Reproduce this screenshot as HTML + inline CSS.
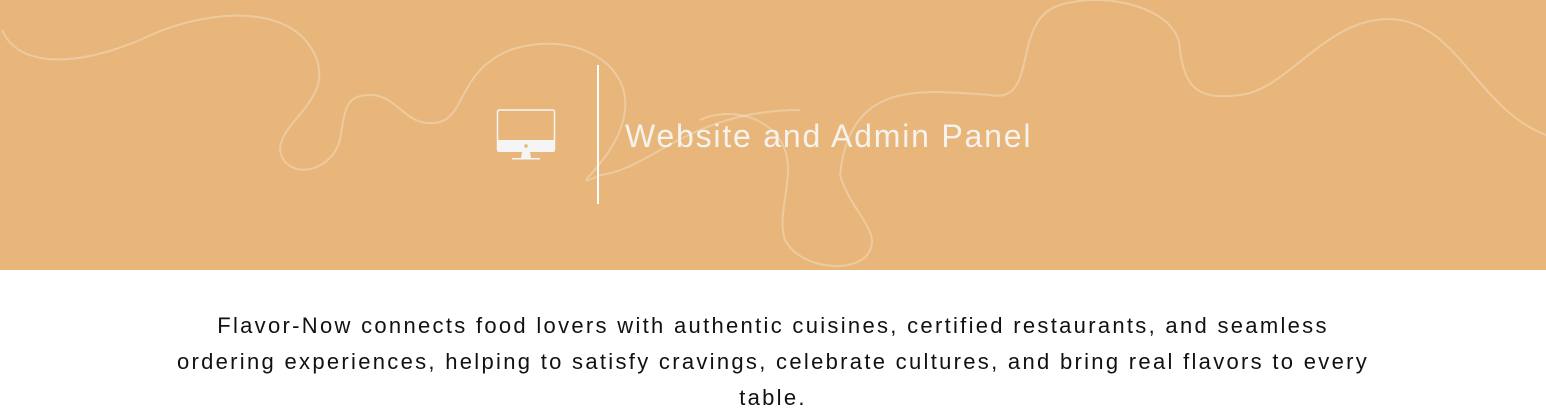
<!DOCTYPE html>
<html><head><style>
html,body{margin:0;padding:0;width:1546px;height:416px;overflow:hidden;background:#fff;font-family:"Liberation Sans",sans-serif}
.banner{position:absolute;left:0;top:0;width:1546px;height:270px;background:#E8B67A}
.title{position:absolute;left:625px;top:118px;font-size:32px;color:#f6f2ee;letter-spacing:1.8px;white-space:nowrap}
.vline{position:absolute;left:597px;top:65px;width:2px;height:139px;background:#fff}
.para{position:absolute;left:60px;width:1426px;top:308px;text-align:center;font-size:22px;line-height:36px;color:#111;letter-spacing:2.3px}
</style></head><body>
<div class="banner">
<svg width="1546" height="270" style="position:absolute;left:0;top:0" fill="none" stroke="rgba(255,255,255,0.28)" stroke-width="2">
<path d="M2 30 C20 70 80 65 140 40 C200 10 290 0 315 55 C335 100 280 120 280 150 C285 180 330 175 340 140 C345 110 345 95 370 95 C400 95 405 130 440 122 C465 115 460 70 510 50 C570 30 630 60 625 110 C620 160 560 195 600 175"/>
<path d="M600 175 C650 170 690 110 800 110"/>
<path d="M840 175 C850 80 920 90 990 95 C1040 105 1010 20 1060 5 C1110 -10 1180 10 1180 50 C1185 90 1200 100 1240 95 C1290 90 1330 10 1400 20 C1460 30 1480 110 1546 135"/>
<path d="M840 175 C850 210 880 230 870 250 C860 275 800 270 785 240 C775 210 800 170 780 140 C760 110 720 110 700 120"/>
</svg>
<svg width="60" height="55" style="position:absolute;left:496px;top:108px">
<rect x="1.5" y="2" width="57" height="41" rx="2" fill="none" stroke="#f5f5f5" stroke-width="1.5"/>
<path d="M1 32 H59 V42 Q59 44 57 44 H3 Q1 44 1 42 Z" fill="#f5f5f5"/>
<path d="M26 44 H34 L35 50 H25 Z" fill="#f5f5f5"/>
<rect x="16" y="50" width="28" height="1.5" fill="#f5f5f5"/>
<circle cx="30" cy="38" r="1.8" fill="#E8B67A"/>
</svg>
</div>
<div class="vline"></div>
<div class="title">Website and Admin Panel</div>
<div class="para">Flavor-Now connects food lovers with authentic cuisines, certified restaurants, and seamless<br>ordering experiences, helping to satisfy cravings, celebrate cultures, and bring real flavors to every<br>table.</div>
</body></html>
